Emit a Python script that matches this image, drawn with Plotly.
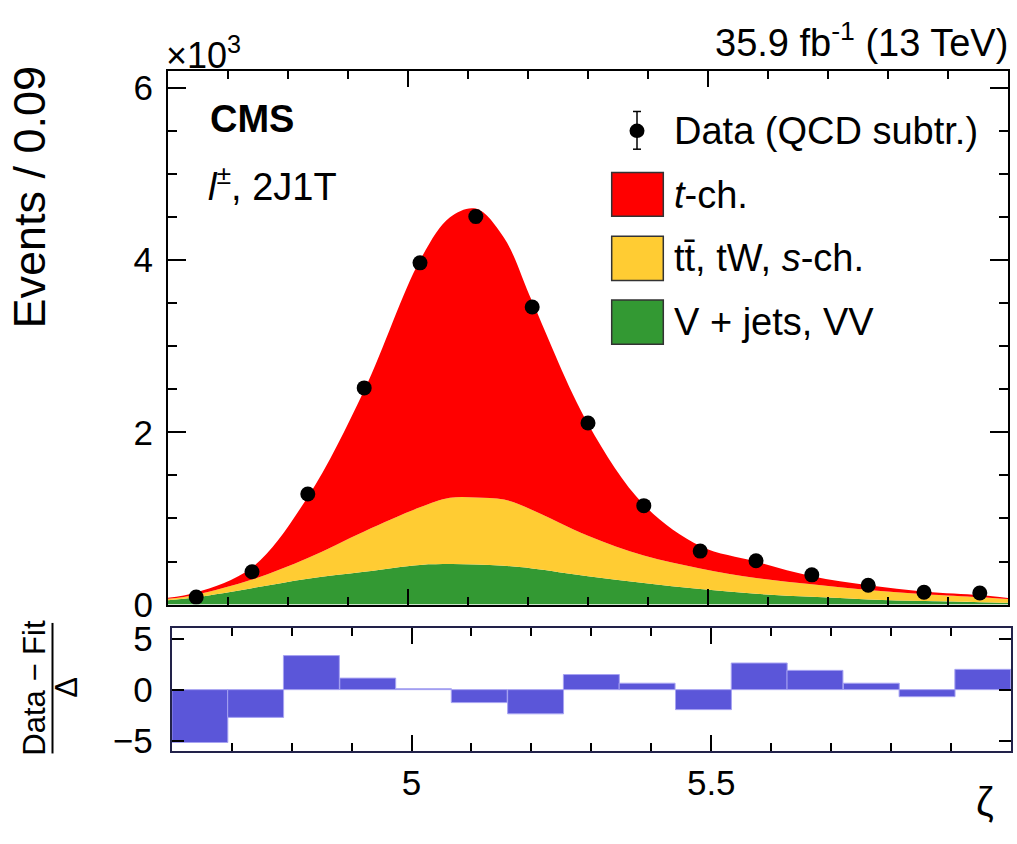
import plotly.graph_objects as go

# ---------------- data ----------------
# smooth fit-template sample positions (zeta) and stacked components (x10^3 events)
curve_x = [4.600, 4.647, 4.740, 4.833, 4.927, 5.020, 5.070, 5.113, 5.160, 5.207,
           5.300, 5.393, 5.487, 5.580, 5.673, 5.767, 5.862, 5.953, 6.000]
vjets_vv = [0.050, 0.085, 0.190, 0.300, 0.380, 0.460, 0.470, 0.465, 0.450, 0.420,
            0.330, 0.250, 0.180, 0.125, 0.090, 0.060, 0.040, 0.027, 0.020]
ttbar_tw_sch = [0.017, 0.030, 0.100, 0.240, 0.470, 0.670, 0.770, 0.780, 0.770, 0.680,
                0.470, 0.320, 0.240, 0.185, 0.146, 0.110, 0.080, 0.058, 0.045]
t_ch = [0.013, 0.025, 0.140, 0.710, 1.640, 2.870, 3.260, 3.355, 3.040, 2.420,
        1.300, 0.590, 0.260, 0.190, 0.094, 0.055, 0.030, 0.025, 0.010]

# data points (bin centres, x10^3 events)
bin_centers = [4.647, 4.740, 4.833, 4.927, 5.020, 5.113, 5.207, 5.300, 5.393, 5.487,
               5.580, 5.673, 5.767, 5.860, 5.953]
data_vals = [0.087, 0.382, 1.284, 2.517, 3.970, 4.509, 3.457, 2.110, 1.149, 0.621,
             0.509, 0.345, 0.225, 0.143, 0.135]
data_errs = [0.010, 0.020, 0.040, 0.050, 0.060, 0.070, 0.060, 0.050, 0.040, 0.030,
             0.020, 0.020, 0.020, 0.010, 0.010]
bin_width = 0.0933
pulls = [-5.18, -2.72, 3.34, 1.13, 0.09, -1.27, -2.37, 1.48, 0.63, -1.96,
         2.61, 1.89, 0.63, -0.69, 1.99]

# ---------------- styling ----------------
W, H = 1017, 844
FONT = "Liberation Sans, Arial, Helvetica, sans-serif"
RED, YELLOW, GREEN, PULL, NAVY = "#ff0000", "#ffcc33", "#339933", "#5b56d9", "#22224a"


def px(x):
    return x / W


def py(y):
    return 1 - y / H


green_top = list(vjets_vv)
yellow_top = [g + t for g, t in zip(green_top, ttbar_tw_sch)]
red_top = [y + r for y, r in zip(yellow_top, t_ch)]

fig = go.Figure()
fig.add_trace(go.Scatter(x=curve_x, y=green_top, mode="lines", line=dict(width=0, shape="spline", color=GREEN),
                         fill="tozeroy", fillcolor=GREEN, showlegend=False, hoverinfo="skip"))
fig.add_trace(go.Scatter(x=curve_x, y=yellow_top, mode="lines", line=dict(width=0, shape="spline", color=YELLOW),
                         fill="tonexty", fillcolor=YELLOW, showlegend=False, hoverinfo="skip"))
fig.add_trace(go.Scatter(x=curve_x, y=red_top, mode="lines", line=dict(width=0, shape="spline", color=RED),
                         fill="tonexty", fillcolor=RED, showlegend=False, hoverinfo="skip"))
fig.add_trace(go.Scatter(x=bin_centers, y=data_vals, mode="markers", marker=dict(color="black", size=15),
                         error_y=dict(type="data", array=data_errs, color="black", thickness=1.5, width=4),
                         showlegend=False))
fig.add_trace(go.Bar(x=bin_centers, y=pulls, width=bin_width, xaxis="x2", yaxis="y2",
                     marker=dict(color=PULL, line=dict(color="#a7a3f2", width=1)), showlegend=False))

tickfont = dict(family=FONT, size=35, color="black")
fig.update_layout(
    width=W, height=H, margin=dict(l=0, r=0, t=0, b=0),
    paper_bgcolor="white", plot_bgcolor="white", font=dict(family=FONT, color="black"), bargap=0,
    xaxis=dict(domain=[px(168), px(1008)], range=[4.6, 6.0], anchor="y", showline=True, linecolor="black",
               linewidth=2, mirror="ticks", ticks="inside", ticklen=16, tickwidth=2, tickcolor="black",
               tick0=5, dtick=0.5, showticklabels=False, showgrid=False, zeroline=False,
               minor=dict(dtick=0.1, tick0=5, ticks="inside", ticklen=8, tickwidth=2, tickcolor="black", showgrid=False)),
    yaxis=dict(domain=[py(616), py(64)], range=[0, 6.2], anchor="x", showline=True, linecolor="black",
               linewidth=2, mirror="ticks", ticks="inside", ticklen=18, tickwidth=2, tickcolor="black",
               tickvals=[0, 2, 4, 6], tickfont=tickfont, ticklabelstandoff=6, showgrid=False, zeroline=False,
               minor=dict(dtick=0.5, tick0=0, ticks="inside", ticklen=9, tickwidth=2, tickcolor="black", showgrid=False)),
    xaxis2=dict(domain=[px(171.7), px(1011)], range=[4.6, 6.0], anchor="y2", showline=True, linecolor=NAVY,
                linewidth=2, mirror="ticks", ticks="inside", ticklen=16, tickwidth=2, tickcolor="black",
                tickvals=[5, 5.5], ticktext=["5", "5.5"], tickfont=tickfont, showgrid=False, zeroline=False,
                minor=dict(dtick=0.1, tick0=5, ticks="inside", ticklen=8, tickwidth=2, tickcolor="black", showgrid=False)),
    yaxis2=dict(domain=[py(767.3), py(640.7)], range=[-6, 6], anchor="x2", showline=True, linecolor=NAVY,
                linewidth=2, mirror="ticks", ticks="inside", ticklen=12, tickwidth=2, tickcolor="black",
                tickvals=[-5, 0, 5], ticktext=["\u22125", "0", "5"], tickfont=tickfont,
                ticklabelstandoff=10, showgrid=False, zeroline=False),
)

ann = []


def add_text(text, x, y, size, xanchor="left", yanchor="middle", angle=0):
    ann.append(dict(text=text, x=px(x), y=py(y), xref="paper", yref="paper", xanchor=xanchor, yanchor=yanchor,
                    showarrow=False, textangle=angle, font=dict(family=FONT, size=size, color="black")))


add_text("35.9 fb<sup>-1</sup> (13 TeV)", 1010, 32, 38, xanchor="right")
add_text("\u00d710<sup>3</sup>", 164, 46, 36)
add_text("<b>CMS</b>", 208, 114, 38)
add_text("<i>l</i><sup>\u00b1</sup>, 2J1T", 206, 181, 38)
add_text("Data (QCD subtr.)", 672, 126, 38)
add_text("<i>t</i>-ch.", 672, 192, 38)
add_text("tt\u0304, tW, <i>s</i>-ch.", 672, 258, 38)
add_text("V + jets, VV", 672, 324, 38)
add_text("Events / 0.09", 30, 195, 45, xanchor="center", angle=-90)
add_text("\u03b6", 985, 820, 40, xanchor="center")
add_text("Data \u2212 Fit", 35, 702, 31, xanchor="center", angle=-90)
add_text("\u0394", 67, 702, 31, xanchor="center", angle=-90)
fig.update_layout(annotations=ann)

shapes = []
# legend boxes
for (y0, y1, col) in [(169, 214.3, RED), (235, 280.7, YELLOW), (301, 346.7, GREEN)]:
    shapes.append(dict(type="rect", xref="paper", yref="paper", x0=px(611.7), x1=px(663.3),
                       y0=py(y1), y1=py(y0), fillcolor=col, line=dict(color="#333333", width=1.5)))
# legend data marker with error bar
shapes.append(dict(type="line", xref="paper", yref="paper", x0=px(637), x1=px(637), y0=py(145), y1=py(106),
                   line=dict(color="black", width=1.5)))
for yy in (106, 145):
    shapes.append(dict(type="line", xref="paper", yref="paper", x0=px(633), x1=px(641), y0=py(yy), y1=py(yy),
                       line=dict(color="black", width=1.5)))
shapes.append(dict(type="circle", xref="paper", yref="paper", x0=px(629.5), x1=px(644.5), y0=py(133.5), y1=py(118.5),
                   fillcolor="black", line=dict(color="black", width=0)))
# fraction bar of the pull-axis title
shapes.append(dict(type="line", xref="paper", yref="paper", x0=px(52.5), x1=px(52.5), y0=py(770), y1=py(635),
                   line=dict(color="black", width=2)))
fig.update_layout(shapes=shapes)

post = (
    "document.documentElement.style.margin='0px';"
    "document.body.style.margin='0px';document.body.style.padding='0px';"
    "document.documentElement.style.overflow='hidden';"
)
fig.write_html("out.html", config={"displayModeBar": False, "staticPlot": True}, post_script=post)
